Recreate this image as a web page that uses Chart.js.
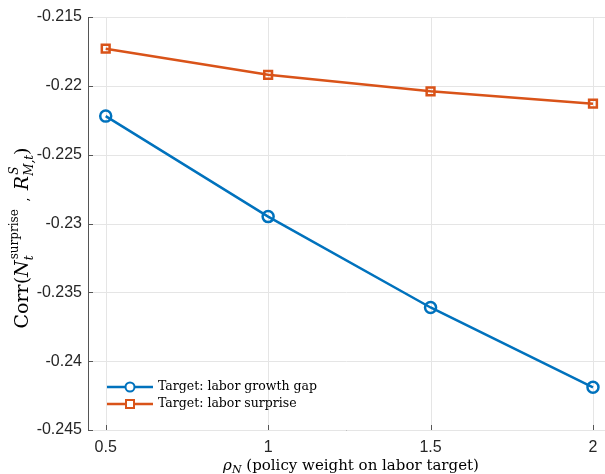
<!DOCTYPE html>
<html>
<head>
<meta charset="utf-8">
<script src="https://cdn.jsdelivr.net/npm/chart.js@4/dist/chart.umd.min.js"></script>
<style>
  html, body { margin: 0; padding: 0; background: #fff; }
  #wrap { width: 605px; height: 474px; }
</style>
</head>
<body>
<div id="wrap"><canvas id="myChart" width="605" height="474"></canvas></div>
<script>
'use strict'

// data
var rhoN = [0.5, 1, 1.5, 2]
var growthGap = [-0.2222, -0.2295, -0.2361, -0.2419]
var laborSurprise = [-0.2173, -0.2192, -0.2204, -0.2213]
var xTicks = [0.5, 1, 1.5, 2]
var seriesLabels = ['Target: labor growth gap', 'Target: labor surprise']

var BLUE = '#0072BD'
var ORANGE = '#D95319'
var SERIF = '"DejaVu Serif", "Liberation Serif", serif'
var SANS = '"Liberation Sans", Arial, sans-serif'
var AXIS = '#555555'
var GRID = '#e5e5e5'

function toPoints(xs, ys) {
  return xs.map(function (x, i) { return { x: x, y: ys[i] } })
}

// text pieces, some with stacked super/subscripts
function richWidth(ctx, parts) {
  var w = 0
  parts.forEach(function (p) {
    if (p.stack) {
      var m = 0
      p.stack.forEach(function (s) { ctx.font = s.f; m = Math.max(m, ctx.measureText(s.t).width + (s.dx || 0)) })
      w += m
    } else {
      ctx.font = p.f
      w += ctx.measureText(p.t).width
    }
  })
  return w
}

function drawRich(ctx, parts, x, y) {
  var cx = x - richWidth(ctx, parts) / 2
  parts.forEach(function (p) {
    if (p.stack) {
      var m = 0
      p.stack.forEach(function (s) {
        ctx.font = s.f
        ctx.fillText(s.t, cx + (s.dx || 0), y + s.dy)
        m = Math.max(m, ctx.measureText(s.t).width + (s.dx || 0))
      })
      cx += m
    } else {
      ctx.font = p.f
      ctx.fillText(p.t, cx, y + (p.dy || 0))
      cx += ctx.measureText(p.t).width
    }
  })
}

var extras = {
  id: 'extras',
  beforeDatasetsDraw: function (chart) {
    // grid lines at the ticks, drawn by hand
    var ctx = chart.ctx
    var a = chart.chartArea
    var xs = chart.scales.x
    var ys = chart.scales.y
    ctx.save()
    ctx.strokeStyle = GRID
    ctx.lineWidth = 1
    ctx.beginPath()
    xTicks.forEach(function (v) {
      var px = Math.round(xs.getPixelForValue(v)) + 0.5
      ctx.moveTo(px, a.top)
      ctx.lineTo(px, a.bottom)
    })
    ys.ticks.forEach(function (t) {
      var py = Math.round(ys.getPixelForValue(t.value)) + 0.5
      ctx.moveTo(a.left, py)
      ctx.lineTo(a.right, py)
    })
    ctx.stroke()
    ctx.restore()
  },
  afterDraw: function (chart) {
    var ctx = chart.ctx
    var a = chart.chartArea
    var xs = chart.scales.x
    var ys = chart.scales.y
    ctx.save()

    // inward tick marks
    ctx.strokeStyle = AXIS
    ctx.lineWidth = 1
    ctx.beginPath()
    xTicks.forEach(function (v) {
      var px = Math.round(xs.getPixelForValue(v)) + 0.5
      ctx.moveTo(px, a.bottom)
      ctx.lineTo(px, a.bottom - 5)
    })
    ys.ticks.forEach(function (t) {
      var py = Math.round(ys.getPixelForValue(t.value)) + 0.5
      ctx.moveTo(a.left, py)
      ctx.lineTo(a.left + 5, py)
    })
    ctx.stroke()

    // legend inside the axes
    var rows = [
      { label: seriesLabels[0], color: BLUE, style: 'circle' },
      { label: seriesLabels[1], color: ORANGE, style: 'rect' }
    ]
    rows.forEach(function (r, i) {
      var yy = 387 + i * 17
      ctx.strokeStyle = r.color
      ctx.lineWidth = 2.5
      ctx.beginPath()
      ctx.moveTo(107, yy)
      ctx.lineTo(153, yy)
      ctx.stroke()
      ctx.lineWidth = 2
      ctx.beginPath()
      if (r.style === 'circle') {
        ctx.arc(130, yy, 4.5, 0, Math.PI * 2)
      } else {
        ctx.rect(126, yy - 4, 8, 8)
      }
      ctx.fillStyle = '#fff'
      ctx.fill()
      ctx.stroke()
      ctx.fillStyle = '#000'
      ctx.font = '12.5px ' + SERIF
      ctx.textBaseline = 'middle'
      ctx.textAlign = 'left'
      ctx.fillText(r.label, 158, yy)
    })

    // axis titles with sub/superscripts
    ctx.fillStyle = '#000'
    ctx.textBaseline = 'alphabetic'
    ctx.textAlign = 'left'
    var big = '19px ' + SERIF
    var bigI = 'italic 19px ' + SERIF
    var small = '12px ' + SERIF
    var smallI = 'italic 12px ' + SERIF
    var yTitle = [
      { t: 'Corr(', f: big },
      { t: 'N', f: bigI },
      { stack: [{ t: 'surprise', f: small, dy: -10, dx: 1 }, { t: 't', f: smallI, dy: 5, dx: 0 }] },
      { t: '  ,  ', f: small },
      { t: 'R', f: bigI },
      { stack: [{ t: 'S', f: smallI, dy: -10, dx: 1 }, { t: 'M,t', f: smallI, dy: 5, dx: 0 }] },
      { t: ')', f: big }
    ]
    ctx.save()
    ctx.translate(28, 238)
    ctx.rotate(-Math.PI / 2)
    drawRich(ctx, yTitle, 0, 0)
    ctx.restore()

    var mid = '15px ' + SERIF
    var midI = 'italic 15px ' + SERIF
    var xTitle = [
      { t: '\u03C1', f: midI },
      { t: 'N', f: 'italic 11px ' + SERIF, dy: 3 },
      { t: ' (policy weight on labor target)', f: mid }
    ]
    drawRich(ctx, xTitle, 351, 470)

    ctx.restore()
  }
}

var ctx = document.getElementById('myChart')
// eslint-disable-next-line no-unused-vars
var myChart = new Chart(ctx, {
  type: 'line',
  data: {
    datasets: [{
      label: seriesLabels[0],
      data: toPoints(rhoN, growthGap),
      borderColor: BLUE,
      backgroundColor: 'rgba(0,0,0,0)',
      borderWidth: 2.5,
      pointStyle: 'circle',
      pointRadius: 5.5,
      pointBorderWidth: 2.5,
      pointBackgroundColor: 'rgba(0,0,0,0)',
      pointBorderColor: BLUE,
      tension: 0
    }, {
      label: seriesLabels[1],
      data: toPoints(rhoN, laborSurprise),
      borderColor: ORANGE,
      backgroundColor: 'rgba(0,0,0,0)',
      borderWidth: 2.5,
      pointStyle: 'rect',
      pointRadius: 5.5,
      pointBorderWidth: 2.5,
      pointBackgroundColor: 'rgba(0,0,0,0)',
      pointBorderColor: ORANGE,
      tension: 0
    }]
  },
  options: {
    responsive: false,
    animation: false,
    events: [],
    layout: { autoPadding: false, padding: { top: 17, left: 0, right: 0, bottom: 0 } },
    plugins: {
      legend: { display: false },
      tooltip: { enabled: false }
    },
    scales: {
      x: {
        type: 'linear',
        min: 0.4455,
        max: 2.037,
        afterBuildTicks: function (scale) {
          scale.ticks = xTicks.map(function (v) { return { value: v } })
        },
        afterFit: function (scale) {
          scale.height = 44
          scale.paddingLeft = 0
          scale.paddingRight = 0
        },
        grid: { drawOnChartArea: false, drawTicks: false },
        border: { display: true, color: AXIS, width: 1 },
        ticks: {
          padding: 8,
          color: '#262626',
          font: { family: SANS, size: 16 },
          maxRotation: 0,
          callback: function (v) { return String(v) }
        }
      },
      y: {
        min: -0.245,
        max: -0.215,
        afterFit: function (scale) {
          scale.width = 88
          scale.paddingTop = 0
          scale.paddingBottom = 0
        },
        grid: { drawOnChartArea: false, drawTicks: false },
        border: { display: true, color: AXIS, width: 1 },
        ticks: {
          stepSize: 0.005,
          padding: 6,
          color: '#262626',
          font: { family: SANS, size: 16 },
          callback: function (v) { return String(Number(v.toFixed(3))) }
        }
      }
    }
  },
  plugins: [extras]
})
</script>
</body>
</html>
